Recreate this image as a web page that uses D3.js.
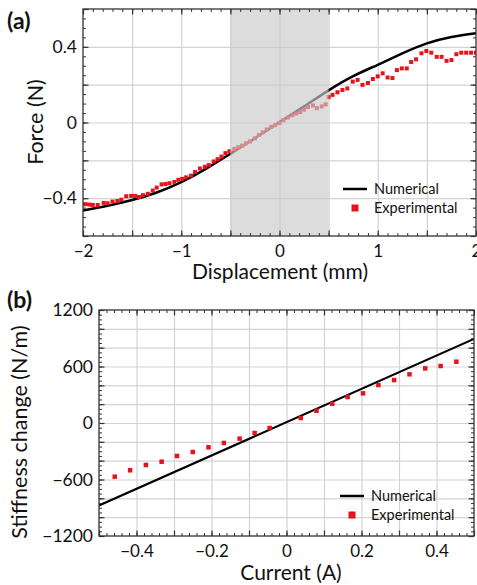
<!DOCTYPE html>
<html>
<head>
<meta charset="utf-8">
<script src="https://cdn.jsdelivr.net/npm/d3@7"></script>
<style>
  body { margin: 0; background: #fff; }
  svg text { font-family: Lato, "Open Sans", sans-serif; fill: #111; }
</style>
</head>
<body>
<svg id="fig" width="477" height="585"></svg>
<script>
// ---- panel (a): force vs displacement ----
const dispNum = [-2, -1.75, -1.5, -1.25, -1, -0.75, -0.5, -0.25, 0, 0.25, 0.5, 0.75, 1, 1.25, 1.5, 1.75, 2];
const forceNum = [-0.465, -0.44, -0.41, -0.37, -0.315, -0.245, -0.165, -0.083, 0.002, 0.085, 0.17, 0.245, 0.305, 0.365, 0.418, 0.452, 0.472];

const dispExp = [
  -2.0, -1.97, -1.93, -1.9, -1.85, -1.79, -1.75, -1.7, -1.65, -1.61, -1.56, -1.51, -1.47, -1.43, -1.39,
  -1.34, -1.29, -1.25, -1.2, -1.16, -1.12, -1.07, -1.03, -0.99, -0.95, -0.9, -0.86, -0.81, -0.76, -0.72,
  -0.67, -0.63, -0.59, -0.55, -0.51, -0.46, -0.42, -0.38, -0.34, -0.3, -0.25, -0.21, -0.17, -0.13,
  -0.085, -0.044, 0, 0.04, 0.085, 0.13, 0.17, 0.21, 0.25, 0.29, 0.34, 0.38, 0.43, 0.47,
  0.5, 0.54, 0.59, 0.64, 0.69, 0.745, 0.795, 0.845, 0.9, 0.95, 1.0, 1.05, 1.1, 1.15, 1.195, 1.245,
  1.295, 1.34, 1.39, 1.445, 1.495, 1.545, 1.6, 1.65, 1.7, 1.75, 1.8, 1.85, 1.9, 1.95, 2.0
];
const forceExp = [
  -0.432, -0.432, -0.434, -0.436, -0.436, -0.425, -0.427, -0.418, -0.415, -0.408, -0.39, -0.388, -0.388, -0.394, -0.384,
  -0.377, -0.36, -0.344, -0.327, -0.325, -0.321, -0.314, -0.303, -0.298, -0.29, -0.281, -0.262, -0.243, -0.234, -0.225,
  -0.206, -0.194, -0.18, -0.162, -0.152, -0.14, -0.131, -0.122, -0.11, -0.1, -0.084, -0.066, -0.052, -0.037,
  -0.023, -0.014, -0.002, 0.012, 0.026, 0.038, 0.047, 0.055, 0.068, 0.082, 0.09, 0.076, 0.085, 0.096,
  0.134, 0.146, 0.16, 0.172, 0.18, 0.216, 0.225, 0.199, 0.209, 0.23, 0.244, 0.26, 0.238, 0.235, 0.277, 0.286,
  0.286, 0.32, 0.334, 0.366, 0.378, 0.369, 0.347, 0.347, 0.326, 0.33, 0.361, 0.369, 0.369, 0.369, 0.369
];

// ---- panel (b): stiffness change vs current ----
const currentNum = [-0.5, 0.5];
const stiffNum = [-875, 893];
const currentExp = [-0.458, -0.417, -0.375, -0.333, -0.292, -0.25, -0.208, -0.167, -0.125, -0.085, -0.045,
  0.038, 0.08, 0.122, 0.163, 0.204, 0.245, 0.287, 0.328, 0.37, 0.411, 0.453];
const stiffExp = [-570, -502, -446, -411, -350, -308, -258, -212, -166, -106, -53,
  53, 130, 205, 276, 315, 403, 456, 517, 580, 605, 651];

const svg = d3.select("#fig");
const RED = "#e8131a";

function panel(o) {
  const x = d3.scaleLinear().domain(o.xDomain).range([o.left, o.right]);
  const y = d3.scaleLinear().domain(o.yDomain).range([o.bottom, o.top]);
  const w = o.right - o.left, h = o.bottom - o.top;
  const g = svg.append("g");

  // grid
  g.append("g")
      .attr("transform", `translate(0,${o.bottom})`)
      .call(d3.axisBottom(x).tickValues(o.xGrid).tickSize(-h).tickFormat(""))
      .call(s => s.select(".domain").remove())
      .call(s => s.selectAll("line").attr("stroke", "#d3d3d3").attr("stroke-width", 1.2));
  g.append("g")
      .attr("transform", `translate(${o.left},0)`)
      .call(d3.axisLeft(y).tickValues(o.yGrid).tickSize(-w).tickFormat(""))
      .call(s => s.select(".domain").remove())
      .call(s => s.selectAll("line").attr("stroke", "#d3d3d3").attr("stroke-width", 1.2));

  const clip = "clip" + o.id;
  g.append("clipPath").attr("id", clip)
    .append("rect").attr("x", o.left).attr("y", o.top).attr("width", w).attr("height", h);

  const data = g.append("g").attr("clip-path", `url(#${clip})`);
  const line = d3.line().x(d => x(d[0])).y(d => y(d[1])).curve(d3.curveNatural);
  data.append("path")
      .datum(d3.zip(o.numX, o.numY))
      .attr("fill", "none")
      .attr("stroke", "#000")
      .attr("stroke-width", o.lineW)
      .attr("d", line);

  const s = o.mark;
  data.selectAll("rect.pt")
    .data(d3.zip(o.expX, o.expY))
    .join("rect")
      .attr("class", "pt")
      .attr("x", d => x(d[0]) - s / 2)
      .attr("y", d => y(d[1]) - s / 2)
      .attr("width", s)
      .attr("height", s)
      .attr("fill", RED);

  if (o.shade) {
    g.append("rect")
        .attr("x", x(o.shade[0]))
        .attr("y", o.top)
        .attr("width", x(o.shade[1]) - x(o.shade[0]))
        .attr("height", h)
        .attr("fill", "rgb(202,202,202)")
        .attr("fill-opacity", 0.66);
  }

  // inward ticks on all four sides
  const tickSides = [
    [d3.axisBottom, x, o.bottom, true],
    [d3.axisTop, x, o.top, true],
    [d3.axisLeft, y, o.left, false],
    [d3.axisRight, y, o.right, false]
  ];
  tickSides.forEach(([ax, sc, pos, horiz]) => {
    const tr = horiz ? `translate(0,${pos})` : `translate(${pos},0)`;
    const major = horiz ? o.xMajor : o.yMajor;
    const minor = horiz ? o.xMinor : o.yMinor;
    g.append("g").attr("transform", tr)
        .call(ax(sc).tickValues(minor).tickSize(-3).tickFormat(""))
        .call(s => s.select(".domain").remove())
        .call(s => s.selectAll("line").attr("stroke", "#333"));
    g.append("g").attr("transform", tr)
        .call(ax(sc).tickValues(major).tickSize(-5.5).tickFormat(""))
        .call(s => s.select(".domain").remove())
        .call(s => s.selectAll("line").attr("stroke", "#333").attr("stroke-width", 1.2));
  });

  // tick labels
  const fmt = d3.format("");
  g.append("g")
      .attr("transform", `translate(0,${o.bottom})`)
      .call(d3.axisBottom(x).tickValues(o.xLabels).tickSize(0).tickPadding(9).tickFormat(fmt))
      .call(s => s.select(".domain").remove())
      .call(s => s.selectAll("text").attr("font-size", 17).attr("font-family", "Lato").attr("fill", "#111"));
  g.append("g")
      .attr("transform", `translate(${o.left},0)`)
      .call(d3.axisLeft(y).tickValues(o.yLabels).tickSize(0).tickPadding(6).tickFormat(fmt))
      .call(s => s.select(".domain").remove())
      .call(s => s.selectAll("text").attr("font-size", 17.5).attr("font-family", "Lato").attr("fill", "#111"));

  // frame
  g.append("rect")
      .attr("x", o.left).attr("y", o.top).attr("width", w).attr("height", h)
      .attr("fill", "none").attr("stroke", "#333").attr("stroke-width", 1.3);

  // axis titles
  g.append("text")
      .attr("x", o.xTitlePos[0]).attr("y", o.xTitlePos[1])
      .attr("text-anchor", "middle").attr("font-size", 21)
      .text(o.xTitle);
  g.append("text")
      .attr("transform", `translate(${o.yTitlePos[0]},${o.yTitlePos[1]}) rotate(-90)`)
      .attr("text-anchor", "middle").attr("font-size", 21.5)
      .text(o.yTitle);

  // panel letter
  svg.append("text")
      .attr("x", o.letterPos[0]).attr("y", o.letterPos[1])
      .attr("font-size", 23).attr("font-weight", "bold")
      .text(o.letter);

  // legend
  const [lx, ly] = o.legend;
  const lg = g.append("g").attr("transform", `translate(${lx},${ly})`);
  lg.append("line").attr("x1", 0).attr("x2", 24).attr("y1", 0).attr("y2", 0)
      .attr("stroke", "#000").attr("stroke-width", 2.5);
  lg.append("text").attr("x", 31).attr("y", 0).attr("dy", "0.35em")
      .attr("font-size", 14.5).text("Numerical");
  lg.append("rect").attr("x", 12 - 3.5).attr("y", 19 - 3.5).attr("width", 7).attr("height", 7).attr("fill", RED);
  lg.append("text").attr("x", 31).attr("y", 19).attr("dy", "0.35em")
      .attr("font-size", 14.5).text("Experimental");
}

panel({
  id: "a", letter: "(a)", letterPos: [7, 29],
  left: 83, right: 476, top: 9, bottom: 236,
  xDomain: [-2, 2], yDomain: [-0.6, 0.6],
  xGrid: d3.range(-1.5, 2, 0.5), yGrid: [-0.4, -0.2, 0, 0.2, 0.4],
  xMajor: d3.range(-2, 2.01, 0.5), xMinor: d3.range(-2, 2.001, 0.1),
  yMajor: d3.range(-0.6, 0.61, 0.2), yMinor: d3.range(-0.6, 0.601, 0.05),
  xLabels: [-2, -1, 0, 1, 2], yLabels: [-0.4, 0, 0.4],
  numX: dispNum, numY: forceNum, expX: dispExp, expY: forceExp,
  lineW: 2.5, mark: 4, shade: [-0.5, 0.5],
  xTitle: "Displacement (mm)", xTitlePos: [280, 279],
  yTitle: "Force (N)", yTitlePos: [43, 122],
  legend: [343, 189]
});

panel({
  id: "b", letter: "(b)", letterPos: [7, 308],
  left: 99, right: 474, top: 310, bottom: 536,
  xDomain: [-0.5, 0.5], yDomain: [-1200, 1200],
  xGrid: d3.range(-0.4, 0.45, 0.1), yGrid: d3.range(-1000, 1001, 200),
  xMajor: d3.range(-0.5, 0.51, 0.1), xMinor: d3.range(-0.5, 0.501, 0.02),
  yMajor: d3.range(-1200, 1201, 200), yMinor: d3.range(-1200, 1201, 50),
  xLabels: [-0.4, -0.2, 0, 0.2, 0.4], yLabels: [-1200, -600, 0, 600, 1200],
  numX: currentNum, numY: stiffNum, expX: currentExp, expY: stiffExp,
  lineW: 2.2, mark: 4.5, shade: null,
  xTitle: "Current (A)", xTitlePos: [291, 580],
  yTitle: "Stiffness change (N/m)", yTitlePos: [27, 432],
  legend: [340, 496]
});
</script>
</body>
</html>
